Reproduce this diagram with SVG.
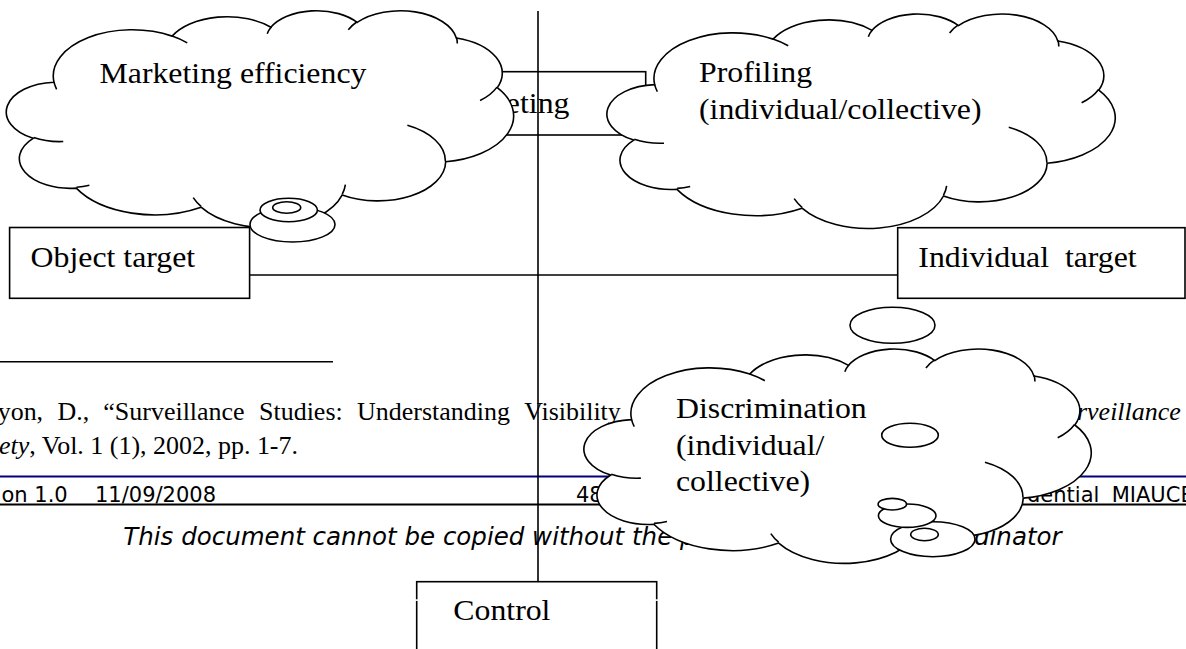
<svg xmlns="http://www.w3.org/2000/svg" xmlns:xlink="http://www.w3.org/1999/xlink" width="1186" height="649" viewBox="0 0 1186 649">
<style>
.bg{fill:#fff}
.box{fill:#fff;stroke:#000;stroke-width:1.6}
.line{fill:none;stroke:#000;stroke-width:1.6}
.cloud{fill:#fff;stroke:#000;stroke-width:1.6}
.hint{fill:none;stroke:#000;stroke-width:1.6}
.bub{fill:#fff;stroke:#000;stroke-width:1.6}
.lbl{font-family:"Liberation Serif","Times New Roman",serif;font-size:30px;fill:#000;white-space:pre}
.fn{font-family:"Liberation Serif","Times New Roman",serif;font-size:24.5px;fill:#000}
.it{font-style:italic}
.ft{font-family:"DejaVu Sans",Verdana,sans-serif;font-size:21px;fill:#000;white-space:pre}
.note{font-family:"DejaVu Sans",Verdana,sans-serif;font-size:24.5px;font-style:italic;fill:#000}
</style>
<defs>
<path id="cloudOutline" vector-effect="non-scaling-stroke" d="M3900,14370 A6753,9190 0 0 1 14005,5202 A5333,7267 0 0 1 22457,3431 A4365,5945 0 0 1 29834,2480 A4857,6595 0 0 1 38319,5575 A5333,7273 0 0 1 41819,15459 A6775,9220 0 0 1 37405,30202 A5785,7867 0 0 1 28557,36812 A6752,9215 0 0 1 16482,39264 A7720,10543 0 0 1 5805,35468 A4360,5918 0 0 1 2114,25546 A4345,5945 0 0 1 3900,14370 Z"/>
<path id="cloudHints" vector-effect="non-scaling-stroke" d="M4693,26177 A4345,5945 0 0 1 2160,25380 M6928,34899 A4360,5918 0 0 1 5820,35281 M16478,39090 A6752,9215 0 0 1 15809,37348 M28827,34751 A6752,9215 0 0 1 28560,36660 M34129,22954 A5785,7867 0 0 1 37380,30090 M41798,15354 A5333,7273 0 0 1 40349,18031 M38324,5426 A4857,6595 0 0 1 38401,6690 M29078,3952 A4857,6595 0 0 1 29820,2339 M22141,4720 A4365,5945 0 0 1 22500,3331 M14000,5192 A6753,9190 0 0 1 15300,6540 M4127,15789 A6753,9190 0 0 1 3900,14370"/>
</defs>
<rect class="bg" x="0" y="0" width="1186" height="649"/>

<g id="page-background">
<line x1="0" y1="361.7" x2="333" y2="361.7" stroke="#000" stroke-width="1.5"/>
<text class="fn" transform="translate(0,420) scale(1.06,1)"><tspan x="-2.2">yon,</tspan><tspan x="54.2">D.,</tspan><tspan x="97.5">“Surveillance</tspan><tspan x="244.4">Studies:</tspan><tspan x="336.9">Understanding</tspan><tspan x="494.6">Visibility</tspan></text>
<text class="fn it" transform="translate(1077,420) scale(1.06,1)">rveillance</text>
<text class="fn" transform="translate(-1,453.5) scale(1.06,1)"><tspan class="it">ety</tspan>, Vol. 1 (1), 2002, pp. 1-7.</text>
<line x1="0" y1="476.5" x2="1186" y2="476.5" stroke="#000080" stroke-width="2"/>
<text class="ft" x="1.5" y="501.7">on 1.0</text>
<text class="ft" x="95" y="501.7">11/09/2008</text>
<text class="ft" x="576" y="501.7">48</text>
<text class="ft" x="1027" y="501.7">dential <tspan x="1111.7">MIAUCE</tspan></text>
<line x1="0" y1="504.5" x2="1186" y2="504.5" stroke="#000" stroke-width="2"/>
<text class="note" x="123.3" y="545">This document cannot be copied without the pe</text>
<text class="note" x="974" y="545">dinator</text>
</g>

<g id="node-marketing">
<rect class="box" x="430" y="71.7" width="215.7" height="63.3"/>
<text class="lbl" transform="translate(437,113.3) scale(1.06,1)">Marketing</text>
</g>

<g id="connectors">
<line class="line" x1="538" y1="11" x2="538" y2="581.7"/>
<line class="line" x1="250" y1="275" x2="898" y2="275"/>
</g>

<g id="node-object-target">
<rect class="box" x="9.6" y="227.5" width="240" height="70.8"/>
<text class="lbl" transform="translate(30.6,266.7) scale(1.06,1)">Object target</text>
</g>

<g id="node-individual-target">
<rect class="box" x="897.7" y="227.7" width="287.3" height="70.6"/>
<text class="lbl" transform="translate(918.3,266.7) scale(1.06,1)">Individual  target</text>
</g>

<g id="node-control">
<rect class="box" x="416.7" y="581.7" width="240" height="80"/>
<rect x="415" y="599.3" width="3.4" height="1.6" fill="#fff"/>
<rect x="655" y="599.3" width="3.4" height="1.6" fill="#fff"/>
<text class="lbl" transform="translate(453.3,620) scale(1.06,1)">Control</text>
</g>

<g id="node-marketing-efficiency">
<g transform="translate(8.4,10) scale(0.01169,0.005023)">
<use xlink:href="#cloudOutline" class="cloud"/>
<use xlink:href="#cloudHints" class="hint"/>
</g>
<text class="lbl" transform="translate(99.5,83.3) scale(1.06,1)">Marketing efficiency</text>
<ellipse class="bub" cx="292.5" cy="224.5" rx="42.5" ry="17.5"/>
<ellipse class="bub" cx="288.7" cy="210" rx="28.7" ry="11.7"/>
<ellipse class="bub" cx="286.7" cy="207.5" rx="14" ry="5.8"/>
</g>

<g id="node-profiling">
<g transform="translate(609,13.3) scale(0.011713,0.004963)">
<use xlink:href="#cloudOutline" class="cloud"/>
<use xlink:href="#cloudHints" class="hint"/>
</g>
<text class="lbl" transform="translate(699,81.7) scale(1.06,1)">Profiling</text>
<text class="lbl" transform="translate(699,118.5) scale(1.06,1)">(individual/collective)</text>
</g>

<g id="node-discrimination">
<ellipse class="bub" cx="892.5" cy="325.3" rx="42.5" ry="18"/>
<g transform="translate(586,348.3) scale(0.01169,0.004961)">
<use xlink:href="#cloudOutline" class="cloud"/>
<use xlink:href="#cloudHints" class="hint"/>
</g>
<text class="lbl" transform="translate(676,418) scale(1.06,1)">Discrimination</text>
<text class="lbl" transform="translate(676,454.6) scale(1.06,1)">(individual/</text>
<text class="lbl" transform="translate(676,490.5) scale(1.06,1)">collective)</text>
<ellipse class="bub" cx="910" cy="435.3" rx="28.3" ry="12"/>
<ellipse class="bub" cx="932.8" cy="539.2" rx="42.2" ry="17.5"/>
<ellipse class="bub" cx="924.5" cy="534.5" rx="13.8" ry="6.2"/>
<ellipse class="bub" cx="907.2" cy="515.7" rx="28.8" ry="11.7"/>
<ellipse class="bub" cx="892.3" cy="504.2" rx="14.2" ry="5.8"/>
</g>
</svg>
